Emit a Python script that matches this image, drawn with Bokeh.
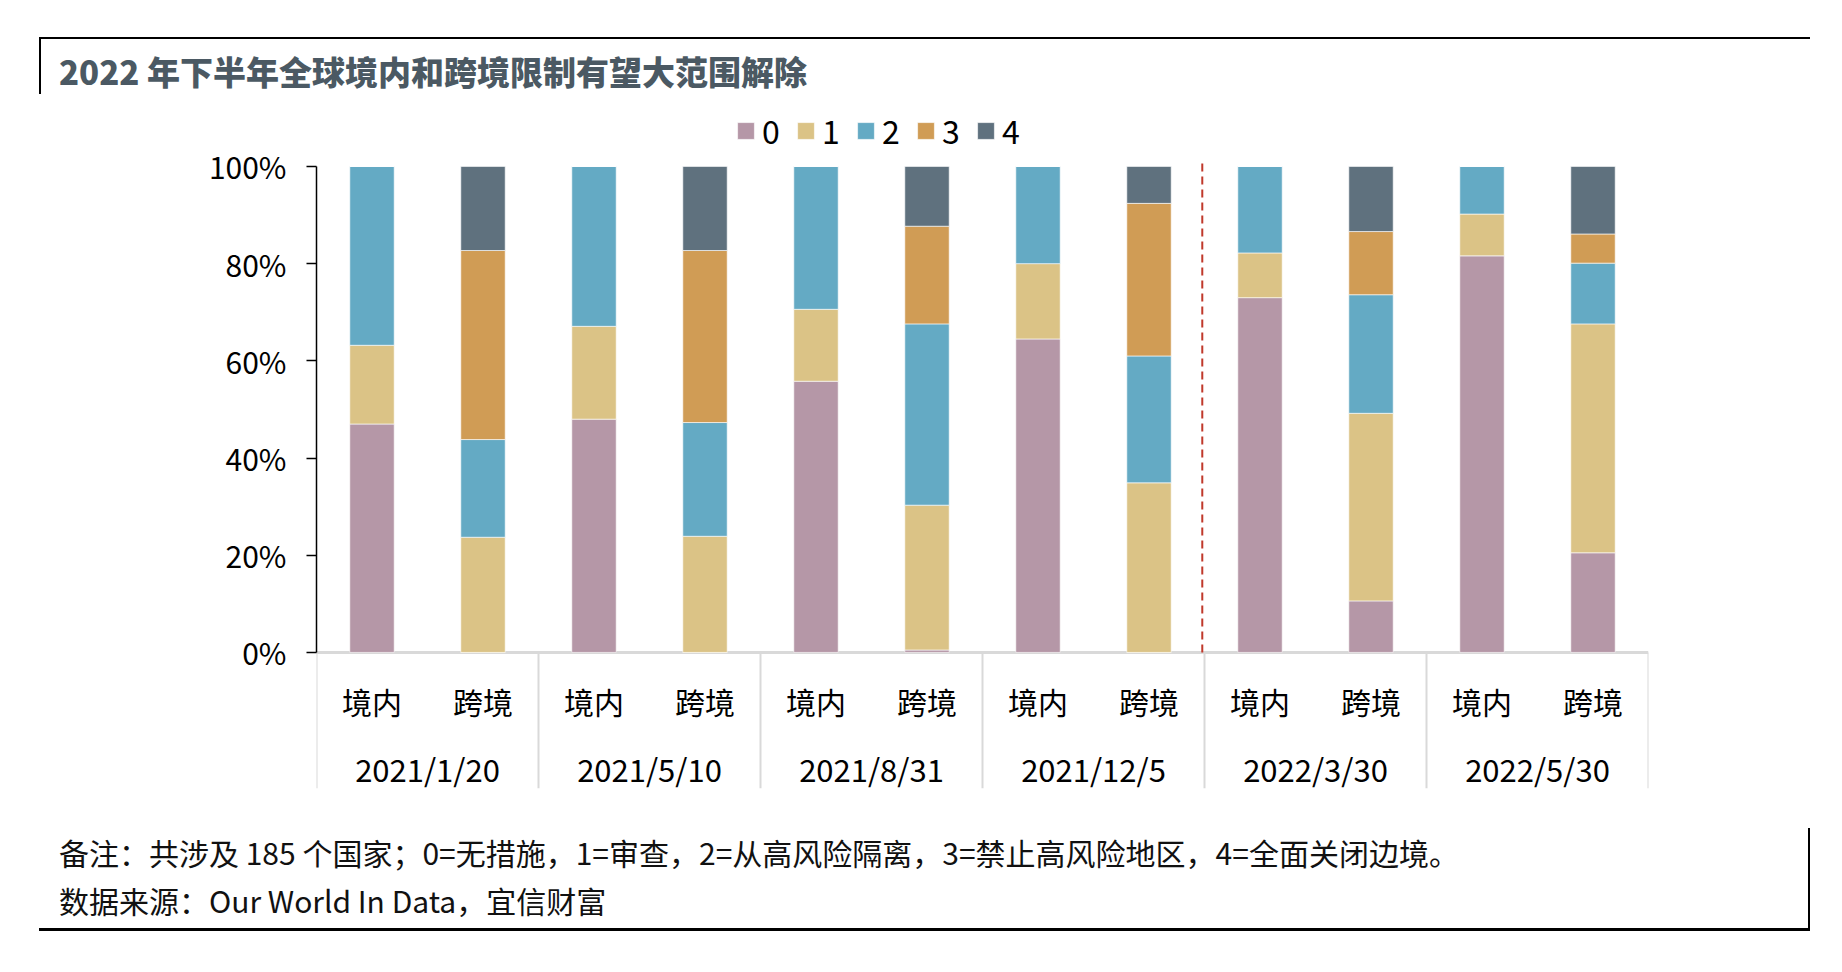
from bokeh.plotting import figure
from bokeh.models import (ColumnDataSource, FactorRange, Range1d, NumeralTickFormatter,
                          FixedTicker, Legend, LegendItem, Div)
from bokeh.layouts import column
from bokeh.core.properties import value
from bokeh.embed import file_html
from bokeh.resources import INLINE

# ---------------- data ----------------
TITLE = "2022 年下半年全球境内和跨境限制有望大范围解除"
NOTE1 = "备注：共涉及 185 个国家；0=无措施，1=审查，2=从高风险隔离，3=禁止高风险地区，4=全面关闭边境。"
NOTE2 = "数据来源：Our World In Data，宜信财富"

dates = ["2021/1/20", "2021/5/10", "2021/8/31", "2021/12/5", "2022/3/30", "2022/5/30"]
kinds = ["境内", "跨境"]
series_names = ["0", "1", "2", "3", "4"]

# percent of countries, order: (date, 境内), (date, 跨境) ...
s0 = [47.0, 0.0, 48.0, 0.0, 55.8, 0.5, 64.5, 0.0, 73.0, 10.6, 81.6, 20.5]
s1 = [16.2, 23.7, 19.1, 23.9, 14.8, 29.8, 15.5, 34.9, 9.2, 38.6, 8.6, 47.1]
s2 = [36.8, 20.1, 32.9, 23.4, 29.4, 37.3, 20.0, 26.1, 17.8, 24.4, 9.8, 12.5]
s3 = [0.0, 38.9, 0.0, 35.4, 0.0, 20.1, 0.0, 31.4, 0.0, 13.0, 0.0, 6.0]
s4 = [0.0, 17.3, 0.0, 17.3, 0.0, 12.3, 0.0, 7.6, 0.0, 13.4, 0.0, 13.9]

y_ticks = [0, 0.2, 0.4, 0.6, 0.8, 1.0]
colors = ["#b597a7", "#dbc386", "#64aac4", "#d09c55", "#5f717e"]

FONT = "Noto Sans CJK SC"

factors = [(d, k) for d in dates for k in kinds]
stack_cols = ["s0", "s1", "s2", "s3", "s4"]
src = ColumnDataSource(dict(
    x=factors,
    s0=[v / 100 for v in s0],
    s1=[v / 100 for v in s1],
    s2=[v / 100 for v in s2],
    s3=[v / 100 for v in s3],
    s4=[v / 100 for v in s4],
))

Y_BOTTOM = -0.28
Y_TOP = 1.148
p = figure(
    x_range=FactorRange(*factors, group_padding=0, range_padding=0, factor_padding=0),
    y_range=Range1d(Y_BOTTOM, Y_TOP),
    frame_width=1332, frame_height=694,
    min_border_left=316, min_border_right=170, min_border_top=0, min_border_bottom=20,
    x_axis_location=None,
    output_backend="svg", toolbar_location=None,
)
p.outline_line_color = None
p.xgrid.visible = False
p.ygrid.visible = False
p.background_fill_color = "white"

# y axis
ya = p.yaxis[0]
ya.bounds = (0, 1)
ya.ticker = FixedTicker(ticks=y_ticks)
ya.formatter = NumeralTickFormatter(format="0%")
ya.major_label_text_font = FONT
ya.major_label_text_font_size = "30px"
ya.major_label_text_color = "#000000"
ya.major_label_standoff = 20
ya.major_tick_out = 10
ya.major_tick_in = 0
ya.minor_tick_out = 0
ya.minor_tick_in = 0
ya.axis_line_color = "#000000"
ya.axis_line_width = 1.5
ya.major_tick_line_color = "#000000"
ya.major_tick_line_width = 1.5

# category separators and base line
sep_x = [(d, "境内", -0.5) for d in dates] + [(dates[-1], "跨境", 0.5)]
p.segment(x0=sep_x, y0=[0] * len(sep_x), x1=sep_x, y1=[Y_BOTTOM] * len(sep_x),
          line_color="#d9d9d9", line_width=2)
p.segment(x0=[(dates[0], "境内", -0.5)], y0=[0], x1=[(dates[-1], "跨境", 0.5)], y1=[0],
          line_color="#d9d9d9", line_width=3)

# bars
renderers = p.vbar_stack(stack_cols, x="x", width=0.4, source=src,
                         fill_color=colors, line_color="white", line_alpha=0.6, line_width=1)

# dashed divider between 2021 and 2022
div_x = [("2022/3/30", "境内", -0.52)]
p.segment(x0=div_x, y0=[0], x1=div_x, y1=[1.01], line_color="#c0392b",
          line_width=2, line_dash="8 5")

# category labels
p.text(x=factors, y=[-0.099] * len(factors), text=[k for d in dates for k in kinds],
       text_align="center", text_baseline="middle", text_font=value(FONT),
       text_font_size="30px", text_color="#000000")
p.text(x=dates, y=[-0.239] * len(dates), text=dates,
       text_align="center", text_baseline="middle", text_font=value(FONT),
       text_font_size="31px", text_color="#000000")

# legend
legend = Legend(
    items=[LegendItem(label=n, renderers=[r]) for n, r in zip(series_names, renderers)],
    orientation="horizontal", location=(419, 635),
    label_text_font=FONT, label_text_font_size="32px", label_text_color="#000000",
    glyph_width=21, glyph_height=21, label_standoff=6, spacing=13,
    padding=0, margin=0, border_line_color=None, background_fill_alpha=0,
    label_height=30,
)
p.add_layout(legend)

title_div = Div(
    text=(f'<div style="margin:37px 0 0 39px;width:1771px;height:57px;box-sizing:border-box;'
          f'border-top:2.5px solid #000;border-left:2px solid #000;padding:14px 0 0 18px;'
          f"font-family:'{FONT}';font-weight:900;font-size:33px;line-height:36px;"
          f'color:#4b5963;white-space:nowrap;">{TITLE}</div>'),
    width=1834, height=94, margin=0,
)
note_div = Div(
    text=(f'<div style="margin:20px 0 0 39px;width:1771px;height:103px;box-sizing:border-box;'
          f'border-right:2px solid #000;border-bottom:3px solid #000;padding:0 0 0 20px;'
          f"font-family:'{FONT}';font-size:30px;line-height:48px;color:#111;"
          f'white-space:nowrap;">{NOTE1}<br>{NOTE2}</div>'),
    width=1834, height=140, margin=0,
)

layout = column(title_div, p, note_div, spacing=0)
open("out.html", "w").write(file_html(layout, INLINE))
